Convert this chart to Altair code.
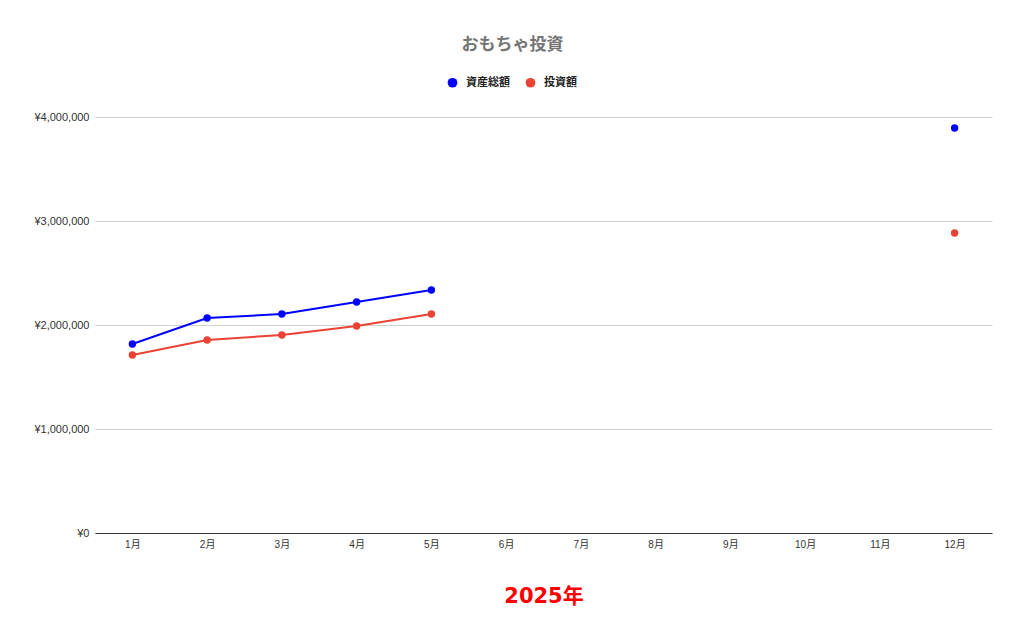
import altair as alt
import pandas as pd

months = ["1月", "2月", "3月", "4月", "5月", "6月", "7月", "8月", "9月", "10月", "11月", "12月"]
series_names = ["資産総額", "投資額"]
total_assets = [1817000, 2067000, 2106000, 2221000, 2336000, None, None, None, None, None, None, 3894000]
invested = [1712000, 1856000, 1904000, 1990000, 2106000, None, None, None, None, None, None, 2885000]
colors = ["#0000ff", "#ea4335"]

rows = []
for name, vals in zip(series_names, [total_assets, invested]):
    for m, v in zip(months, vals):
        rows.append({"月": m, "系列": name, "値": v})
df = pd.DataFrame(rows)

FONT = "Roboto, Noto Sans CJK JP, sans-serif"
AXFONT = "Liberation Sans, Arial, Noto Sans CJK JP, sans-serif"
XTFONT = "DejaVu Sans, Noto Sans CJK JP, sans-serif"

x = alt.X("月:O", scale=alt.Scale(domain=months, type="point", padding=0.5),
          axis=alt.Axis(title="2025年", titleColor="#ff0000", titleFontSize=21, titleFontWeight="bold",
                        titleFont=XTFONT, titlePadding=36, labelAngle=0, labelFontSize=10, labelColor="#333333",
                        labelFont=AXFONT, ticks=False, domainColor="#333333", labelPadding=6, grid=False))
y = alt.Y("値:Q", scale=alt.Scale(domain=[0, 4000000]),
          axis=alt.Axis(title=None, values=[0, 1000000, 2000000, 3000000, 4000000],
                        labelExpr="'¥' + format(datum.value, ',')", labelFontSize=11, labelColor="#333333",
                        labelFont=AXFONT, ticks=False, domain=False, gridColor="#d0d0d0", labelPadding=6))
color = alt.Color("系列:N", scale=alt.Scale(domain=series_names, range=colors),
                  legend=alt.Legend(title=None, orient="none", legendX=352, legendY=-40, direction="horizontal",
                                    symbolType="circle", symbolSize=95, symbolStrokeWidth=0, labelOffset=8,
                                    labelFontSize=11, labelFontWeight="bold", labelColor="#222222", labelFont=FONT,
                                    columnPadding=15, symbolOpacity=1))

base = alt.Chart(df).encode(x=x, y=y, color=color)
lines = base.mark_line(strokeWidth=2)
points = base.mark_circle(size=55, opacity=1).transform_filter("isValid(datum['値'])")

chart = (lines + points).properties(
    width=897, height=416,
    title=alt.TitleParams("おもちゃ投資", fontSize=17, fontWeight="bold", color="#757575", font=FONT,
                          anchor="middle", dx=-31, offset=23),
    autosize=alt.AutoSizeParams(type="none"),
    padding={"left": 87, "top": 109, "right": 24, "bottom": 100},
).configure_view(stroke=None)

chart.save("out.html", embed_options={"renderer": "svg", "actions": False})
